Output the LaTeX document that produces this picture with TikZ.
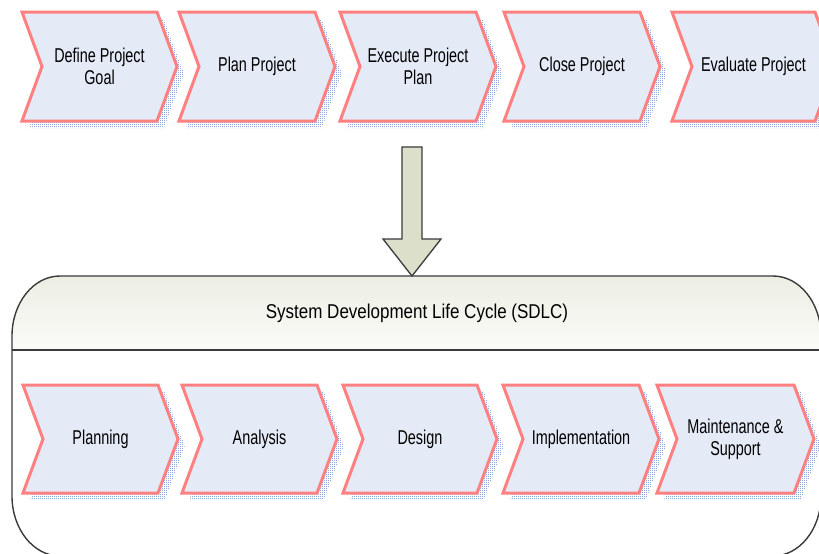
\documentclass[tikz,border=0pt]{standalone}
\usepackage{fontspec}
\setmainfont{Liberation Sans}
\newfontfamily\chevfont{Liberation Sans}[FakeStretch=0.72]
\newfontfamily\headfont{Liberation Sans}[FakeStretch=0.85]
\usetikzlibrary{patterns.meta}
\definecolor{chevfill}{HTML}{E4EAF6}
\definecolor{chevline}{HTML}{FF8080}
\definecolor{shadowdot}{HTML}{8FA9DE}
\definecolor{arrowfill}{HTML}{DCE0CA}
\definecolor{boxline}{HTML}{3A3A3A}
\definecolor{headtop}{HTML}{ECEEE3}
\definecolor{headbot}{HTML}{FBFBF8}
\tikzdeclarepattern{
  name=shadowdots, type=uncolored,
  bounding box={(-1pt,-1pt) and (1pt,1pt)},
  tile size={(2pt,2pt)},
  code={\pgfpathrectangle{\pgfpoint{-0.45pt}{-0.45pt}}{\pgfpoint{0.9pt}{0.9pt}}\pgfusepath{fill}}
}
\tikzset{
  chevshape/.style={fill=chevfill, draw=chevline, line width=3pt, line join=miter},
  chevshadow/.style={pattern=shadowdots, pattern color=shadowdot},
  chevtext/.style={align=center, font=\chevfont\fontsize{20}{22}\selectfont, text=black, inner sep=0pt},
  boxstyle/.style={draw=boxline, line width=1.4pt},
  arrowstyle/.style={fill=arrowfill, draw=boxline, line width=1.3pt, line join=miter},
  headtext/.style={font=\headfont\fontsize{20}{22}\selectfont, text=black, inner sep=0pt},
}
\newcommand{\mychevron}[6]{%
  \pgfmathsetmacro{\cM}{(#3+#5)/2}%
  \fill[chevshadow] (#2+7,#3+7) -- (#4+7,#3+7) -- (#4+27,\cM+7) -- (#4+7,#5+7) -- (#2+7,#5+7) -- (#2+27,\cM+7) -- cycle;
  \draw[chevshape] (#2,#3) -- (#4,#3) -- (#4+20,\cM) -- (#4,#5) -- (#2,#5) -- (#2+20,\cM) -- cycle;
  \node[chevtext] (#1) at ({(#2+#4+20)/2},\cM) {#6};
}
\begin{document}
\begin{tikzpicture}[x=1pt,y=-1pt]
\clip (0,0) rectangle (819,554);
\fill[white] (0,0) rectangle (819,554);
% SDLC container
\shade[top color=headtop, bottom color=headbot]
  (12,350) -- (12,336) arc[start angle=180,end angle=270,x radius=48,y radius=60]
  -- (773,276) arc[start angle=270,end angle=360,x radius=48,y radius=60]
  -- (821,350) -- cycle;
\draw[boxstyle]
  (12,336) arc[start angle=180,end angle=270,x radius=48,y radius=60]
  -- (773,276) arc[start angle=270,end angle=360,x radius=48,y radius=60]
  -- (821,496) arc[start angle=0,end angle=90,x radius=48,y radius=60]
  -- (60,556) arc[start angle=90,end angle=180,x radius=48,y radius=60]
  -- cycle;
\draw[boxstyle] (12,350) -- (821,350);
\node[headtext] (sdlc) at (417,313) {System Development Life Cycle (SDLC)};
% top row
\mychevron{define}{22}{12}{157}{121}{Define Project\\Goal}
\mychevron{plan}{179}{12}{315}{121}{Plan Project}
\mychevron{execute}{340}{12}{476}{121}{Execute Project\\Plan}
\mychevron{close}{504}{12}{640}{121}{Close Project}
\mychevron{evaluate}{672}{12}{815}{121}{Evaluate Project}
% bottom row
\mychevron{planning}{23}{385}{158}{493}{Planning}
\mychevron{analysis}{182}{385}{317}{493}{Analysis}
\mychevron{design}{343}{385}{477}{493}{Design}
\mychevron{implementation}{503}{385}{639}{493}{Implementation}
\mychevron{maintenance}{657}{385}{794}{493}{Maintenance \&\\Support}
% block arrow
\coordinate (arrtip) at (412,276);
\draw[arrowstyle] (402,147) -- (422,147) -- (422,239) -- (441,239) -- (arrtip) -- (383,239) -- (402,239) -- cycle;
\end{tikzpicture}
\end{document}
